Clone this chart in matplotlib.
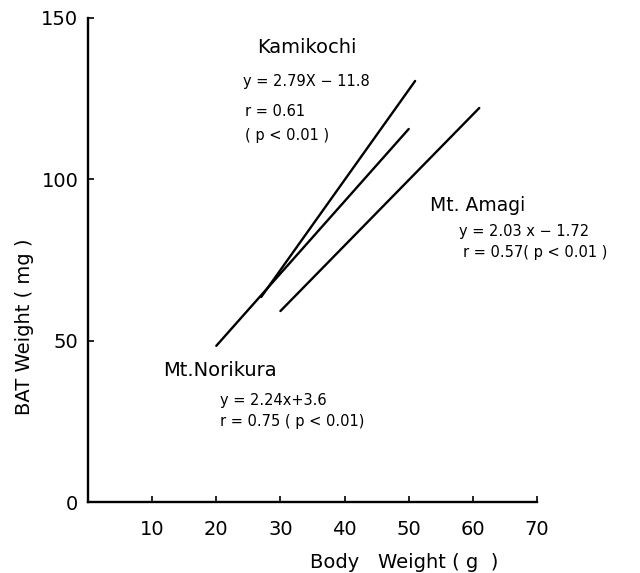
import matplotlib
matplotlib.use("Agg")
import matplotlib.pyplot as plt
import numpy as np

# Regression lines
sites = ["Kamikochi", "Mt.Norikura", "Mt.Amagi"]
slopes = [2.79, 2.24, 2.03]
intercepts = [-11.8, 3.6, -1.72]
x_starts = [27, 20, 30]
x_ends = [51, 50, 61]

x_ticks = [10, 20, 30, 40, 50, 60, 70]
y_ticks = [0, 50, 100, 150]

plt.rcParams['font.family'] = ['DejaVu Sans']

fig = plt.figure(figsize=(6.4, 5.73), dpi=100)
ax = fig.add_axes([88/640, 1-502/573, (537-88)/640, (502-18)/573])

for m, b, x0, x1 in zip(slopes, intercepts, x_starts, x_ends):
    xs = np.array([x0, x1])
    ax.plot(xs, m*xs + b, color="black", lw=1.7, solid_capstyle="round")

ax.set_xlim(0, 70)
ax.set_ylim(0, 150)
ax.set_xticks(x_ticks)
ax.set_yticks(y_ticks)
ax.set_xticklabels([str(t) for t in x_ticks], fontsize=14)
ax.set_yticklabels([str(t) for t in y_ticks], fontsize=14)
ax.tick_params(axis="x", direction="in", length=4, width=1.2, pad=13)
ax.tick_params(axis="y", direction="in", length=4, width=1.2, pad=7)
for s in ["top", "right"]:
    ax.spines[s].set_visible(False)
for s in ["left", "bottom"]:
    ax.spines[s].set_linewidth(1.7)

# axis labels
fig.text(404/640, 1-562/573, "Body   Weight ( g  )", ha="center", va="center", fontsize=14)
fig.text(25/640, 1-327/573, "BAT Weight ( mg )", ha="center", va="center",
         rotation=90, fontsize=14)

eq = 10.5
ax.text(26.3, 141.0, "Kamikochi", fontsize=14, va="center", ha="left")
ax.text(24.2, 130.2, "y = 2.79X − 11.8", fontsize=eq, va="center", ha="left")
ax.text(24.5, 120.9, "r = 0.61", fontsize=eq, va="center", ha="left")
ax.text(24.5, 113.7, "( p < 0.01 )", fontsize=eq, va="center", ha="left")

ax.text(53.3, 92.0, "Mt. Amagi", fontsize=13.5, va="center", ha="left")
ax.text(57.8, 83.7, "y = 2.03 x − 1.72", fontsize=eq, va="center", ha="left")
ax.text(58.5, 77.2, "r = 0.57( p < 0.01 )", fontsize=eq, va="center", ha="left")

ax.text(11.7, 40.9, "Mt.Norikura", fontsize=14, va="center", ha="left")
ax.text(20.6, 31.6, "y = 2.24x+3.6", fontsize=eq, va="center", ha="left")
ax.text(20.6, 24.8, "r = 0.75 ( p < 0.01)", fontsize=eq, va="center", ha="left")

fig.savefig("out.png", dpi=100)
